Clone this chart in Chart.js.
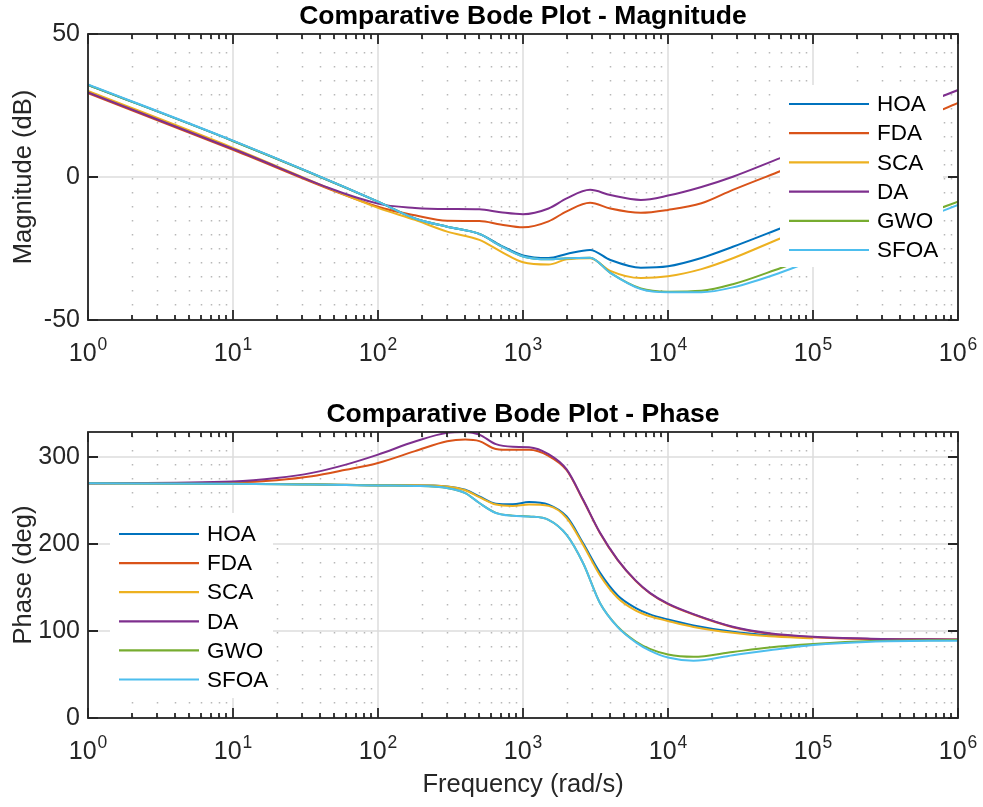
<!DOCTYPE html>
<html>
<head>
<meta charset="utf-8">
<script src="https://cdn.jsdelivr.net/npm/chart.js@4.4.1/dist/chart.umd.min.js"></script>
<style>
  html, body { margin: 0; padding: 0; background: #fff; }
  #wrap { position: relative; width: 983px; height: 807px; }
  canvas { position: absolute; left: 0; }
  #mag { top: 0; }
  #phase { top: 398px; }
</style>
</head>
<body>
<div id="wrap">
  <canvas id="mag" width="983" height="398" style="width:983px;height:398px"></canvas>
  <canvas id="phase" width="983" height="409" style="width:983px;height:409px"></canvas>
</div>
<script>
// ---- data ----
const seriesNames = ['HOA', 'FDA', 'SCA', 'DA', 'GWO', 'SFOA'];
const seriesColors = ['#0072BD', '#D95319', '#EDB120', '#7E2F8E', '#77AC30', '#4DBEEE'];

const xTickValues = [1, 10, 100, 1000, 10000, 100000, 1000000];
const magYTicks = [-50, 0, 50];
const phaseYTicks = [0, 100, 200, 300];

// magnitude (dB)
const magFreq = [1, 10, 100, 180, 300, 500, 700, 1000, 1500, 2000, 2900, 4000, 6500, 10000, 17000, 28000, 60000, 100000, 200000, 500000, 1000000];
const magHOA  = [32.2, 12.6, -8.6, -14.5, -17.4, -19.9, -23.9, -27.4, -28.3, -26.9, -25.5, -29, -31.7, -31.2, -28.3, -24.4, -17.9, -13.5];
const magFDA  = [29.3, 9.5, -10.4, -13.4, -15.3, -15.4, -16.6, -17.6, -15.5, -12, -9, -11, -12.5, -11.5, -9.2, -4.5, 2.1, 6.5, 12.5, 19.5, 25.9];
const magSCA  = [30.1, 10.2, -10.8, -15, -19.1, -22, -26, -29.8, -30.6, -28.8, -28.4, -32.8, -35.3, -34.7, -32.2, -28.4, -21.4, -17];
const magDA   = [29.6, 9.8, -9.3, -10.8, -11.2, -11.3, -12.3, -13, -11, -7.5, -4.5, -6.3, -8, -6.5, -3.5, 0.1, 6.7, 11, 17, 24.5, 30.4];
const magGWO  = [32.2, 12.6, -8.6, -14.5, -17.4, -19.9, -24.1, -27.8, -28.8, -28.4, -28.2, -33.5, -39, -40.1, -39.8, -37.5, -31.8, -27.8, -22, -14.3, -8.6];
const magSFOA = [32.4, 12.7, -8.6, -14.5, -17.4, -19.9, -24.1, -27.8, -28.8, -28.4, -28.2, -33.5, -39.2, -40.3, -40.3, -38.6, -33.4, -29.1, -23.3, -15.6, -9.8];

// phase (deg)
const phaseFreq = [1, 10, 20, 35, 60, 100, 180, 300, 400, 500, 650, 850, 1100, 1500, 2000, 2600, 3400, 4500, 6000, 7500, 10000, 15000, 28000, 50000, 100000, 250000, 1000000];
const phaseHOA  = [270, 269.6, 269.2, 268.8, 268.3, 267.8, 267.8, 266.4, 262.6, 255, 246.5, 245.8, 248.5, 245.5, 231.8, 201, 167, 141, 126.5, 119.2, 113.3, 106.5, 99.2, 95.2, 92.7];
const phaseFDA  = [270, 271, 273.5, 278, 285.5, 293.4, 307, 318.4, 320.3, 318.5, 309.5, 308.5, 308.5, 301.5, 285, 250.5, 212.5, 181.5, 157.5, 143.5, 131, 119, 104.5, 97, 93, 91, 90.4];
const phaseSCA  = [270, 269.6, 269.2, 268.8, 268.3, 267.8, 267.8, 266.4, 262, 254, 245.5, 244, 245.5, 244, 230, 199, 164, 138, 123.5, 117, 111.6, 104.8, 98, 94, 91.6];
const phaseDA   = [270, 272, 276, 282, 291.5, 303, 318, 328, 329, 326, 315, 312, 311.5, 303.5, 286, 251, 213, 182, 158, 144, 131.5, 119.5, 105, 97.5, 93.4, 91.3, 90.4];
const phaseGWO  = [270, 269.4, 269, 268.5, 268, 267.5, 267, 264.5, 258.8, 247.3, 236, 232.8, 231.8, 228, 210.7, 178, 132, 105, 88, 79.5, 73, 70.4, 76, 81, 85, 88.5, 89.6];
const phaseSFOA = [270, 269.4, 269, 268.5, 268, 267.5, 267, 264.5, 258.8, 247.3, 235.8, 232.6, 231.8, 228, 210.7, 178, 132, 104.5, 87, 77.5, 69.5, 65.9, 72.3, 78, 83.9, 87.7, 89];

// ---- styling ----
const FONT = '"Liberation Sans", Arial, Helvetica, sans-serif';
const INK = '#262626';
Chart.defaults.font.family = FONT;
Chart.defaults.color = INK;

function toPoints(freq, vals) {
  return vals.map((v, i) => ({ x: freq[i], y: v }));
}

// MATLAB-ish axes: grid, inward ticks, box, superscript decade labels, legend inside the axes
const bodeAxes = {
  id: 'bodeAxes',
  beforeDatasetsDraw(chart, args, opts) {
    const { ctx, chartArea: a, scales: { x, y } } = chart;
    ctx.save();
    // minor dotted x grid
    ctx.strokeStyle = '#b8b8b8';
    ctx.lineWidth = 1.5;
    ctx.setLineDash([1.5, 12.5]);
    ctx.lineDashOffset = -4;
    for (let d = 0; d < xTickValues.length - 1; d++) {
      for (let k = 2; k < 10; k++) {
        const px = Math.round(x.getPixelForValue(xTickValues[d] * k)) + 0.5;
        ctx.beginPath();
        ctx.moveTo(px, a.top);
        ctx.lineTo(px, a.bottom);
        ctx.stroke();
      }
    }
    ctx.setLineDash([]);
    // major grid
    ctx.strokeStyle = '#dddddd';
    ctx.lineWidth = 1.5;
    xTickValues.forEach(v => {
      const px = Math.round(x.getPixelForValue(v));
      ctx.beginPath();
      ctx.moveTo(px, a.top);
      ctx.lineTo(px, a.bottom);
      ctx.stroke();
    });
    opts.yTicks.forEach(v => {
      const py = Math.round(y.getPixelForValue(v));
      ctx.beginPath();
      ctx.moveTo(a.left, py);
      ctx.lineTo(a.right, py);
      ctx.stroke();
    });
    ctx.restore();
  },
  afterDatasetsDraw(chart, args, opts) {
    const { ctx, chartArea: a, scales: { x, y } } = chart;
    ctx.save();

    // legend box
    const L = opts.legend;
    const bx = L.side === 'right' ? a.right - L.inset - L.width : a.left + L.inset;
    const by = a.top + L.top;
    ctx.fillStyle = '#ffffff';
    ctx.fillRect(bx, by, L.width, L.height);
    ctx.font = '22.5px ' + FONT;
    ctx.textBaseline = 'middle';
    ctx.textAlign = 'left';
    chart.data.datasets.forEach((ds, i) => {
      const ry = by + L.first + i * L.step;
      ctx.strokeStyle = ds.borderColor;
      ctx.lineWidth = 2.2;
      ctx.beginPath();
      ctx.moveTo(bx + 9, ry);
      ctx.lineTo(bx + 89, ry);
      ctx.stroke();
      ctx.fillStyle = '#000000';
      ctx.fillText(ds.label, bx + 97, ry + 1);
    });

    // box
    ctx.strokeStyle = INK;
    ctx.lineWidth = 1.8;
    ctx.strokeRect(a.left, a.top, a.right - a.left, a.bottom - a.top);

    // x ticks (inward, top & bottom)
    for (let d = 0; d < xTickValues.length; d++) {
      const major = Math.round(x.getPixelForValue(xTickValues[d]));
      ctx.beginPath();
      ctx.moveTo(major, a.bottom); ctx.lineTo(major, a.bottom - 10);
      ctx.moveTo(major, a.top); ctx.lineTo(major, a.top + 10);
      ctx.stroke();
      if (d < xTickValues.length - 1) {
        for (let k = 2; k < 10; k++) {
          const px = Math.round(x.getPixelForValue(xTickValues[d] * k));
          ctx.beginPath();
          ctx.moveTo(px, a.bottom); ctx.lineTo(px, a.bottom - 5);
          ctx.moveTo(px, a.top); ctx.lineTo(px, a.top + 5);
          ctx.stroke();
        }
      }
    }
    // y ticks (inward, left & right)
    opts.yTicks.forEach(v => {
      const py = Math.round(y.getPixelForValue(v));
      ctx.beginPath();
      ctx.moveTo(a.left, py); ctx.lineTo(a.left + 10, py);
      ctx.moveTo(a.right, py); ctx.lineTo(a.right - 10, py);
      ctx.stroke();
    });

    // decade labels 10^n
    ctx.fillStyle = INK;
    ctx.textAlign = 'left';
    ctx.textBaseline = 'alphabetic';
    xTickValues.forEach(v => {
      const px = x.getPixelForValue(v);
      const exp = String(Math.round(Math.log10(v)));
      ctx.font = '25px ' + FONT;
      const w1 = ctx.measureText('10').width;
      ctx.font = '17.5px ' + FONT;
      const w2 = ctx.measureText(exp).width;
      const x0 = px - (w1 + w2 + 1) / 2;
      ctx.font = '25px ' + FONT;
      ctx.fillText('10', x0, a.bottom + 41);
      ctx.font = '17.5px ' + FONT;
      ctx.fillText(exp, x0 + w1 + 1, a.bottom + 30);
    });
    ctx.restore();
  }
};

function makeChart(id, cfg) {
  const datasets = seriesNames.map((name, i) => ({
    label: name,
    data: toPoints(cfg.freq, cfg.values[i]),
    borderColor: seriesColors[i],
    backgroundColor: seriesColors[i],
    borderWidth: 2,
    pointRadius: 0,
    fill: false,
    cubicInterpolationMode: 'monotone',
    order: seriesNames.length - i
  }));

  return new Chart(document.getElementById(id), {
    type: 'line',
    data: { datasets },
    plugins: [bodeAxes],
    options: {
      responsive: false,
      animation: false,
      devicePixelRatio: 1,
      layout: { padding: { left: 0, right: 25, top: 0, bottom: 0 } },
      plugins: {
        legend: { display: false },
        tooltip: { enabled: false },
        title: {
          display: true,
          fullSize: false,
          text: cfg.title,
          color: '#000000',
          font: { size: 26.5, weight: 'bold', family: FONT },
          padding: { top: 0.5, bottom: 1.7 }
        },
        bodeAxes: { yTicks: cfg.yTicks, legend: cfg.legend }
      },
      scales: {
        x: {
          type: 'logarithmic',
          position: 'bottom',
          min: 1,
          max: 1000000,
          grid: { display: false, drawTicks: false },
          border: { display: false },
          ticks: { display: false },
          title: cfg.xTitle
            ? { display: true, text: cfg.xTitle, color: INK, font: { size: 25.5, family: FONT }, padding: { top: 0, bottom: 7 } }
            : { display: false },
          afterFit: s => { s.height = cfg.xHeight; }
        },
        y: {
          type: 'linear',
          min: cfg.yMin,
          max: cfg.yMax,
          grid: { display: false, drawTicks: false },
          border: { display: false },
          afterBuildTicks: s => { s.ticks = cfg.yTicks.map(v => ({ value: v })); },
          ticks: { color: INK, font: { size: 25, family: FONT }, padding: 8 },
          title: { display: true, text: cfg.yTitle, color: INK, font: { size: 25.5, family: FONT }, padding: { top: 9, bottom: 0 } },
          afterFit: s => { s.width = 88; }
        }
      }
    }
  });
}

makeChart('mag', {
  title: 'Comparative Bode Plot - Magnitude',
  freq: magFreq,
  values: [magHOA, magFDA, magSCA, magDA, magGWO, magSFOA],
  yMin: -50, yMax: 50, yTicks: magYTicks,
  yTitle: 'Magnitude (dB)',
  xTitle: null,
  xHeight: 78,
  legend: { side: 'right', inset: 15, top: 51, width: 163, height: 182, first: 19, step: 29.2 }
});

makeChart('phase', {
  title: 'Comparative Bode Plot - Phase',
  freq: phaseFreq,
  values: [phaseHOA, phaseFDA, phaseSCA, phaseDA, phaseGWO, phaseSFOA],
  yMin: 0, yMax: 329, yTicks: phaseYTicks,
  yTitle: 'Phase (deg)',
  xTitle: 'Frequency (rad/s)',
  xHeight: 89,
  legend: { side: 'left', inset: 22, top: 81, width: 163, height: 185, first: 21, step: 29.1 }
});
</script>
</body>
</html>
